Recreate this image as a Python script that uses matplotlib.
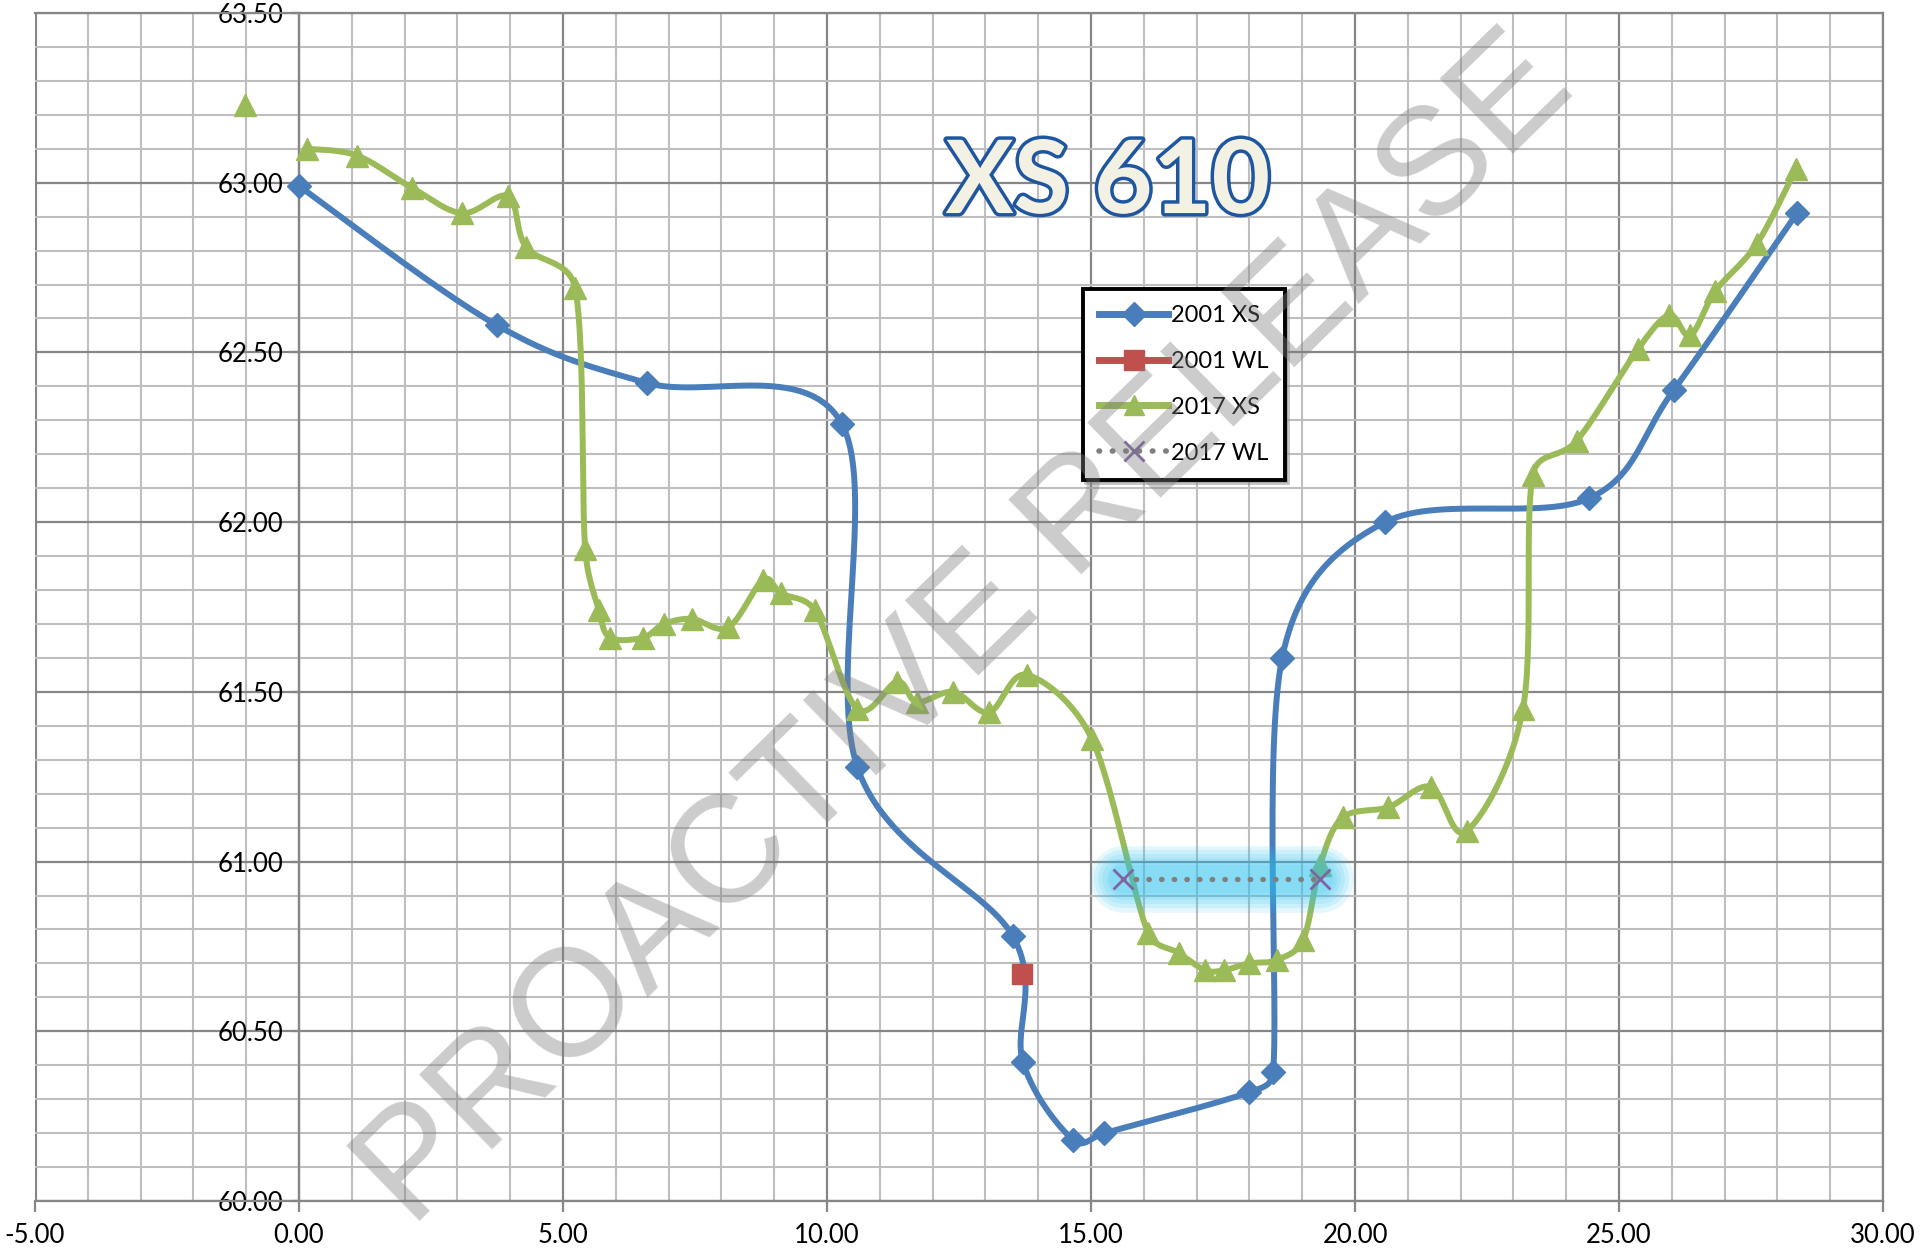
import numpy as np
import matplotlib
matplotlib.use("Agg")
import matplotlib.pyplot as plt
import matplotlib.patheffects as pe
from matplotlib.ticker import MultipleLocator, FormatStrFormatter

# 2001 cross section
xs2001_x = [0.00, 3.75, 6.59, 10.28, 10.57, 13.52, 13.71, 14.66, 15.25, 17.99, 18.45, 18.62, 20.57, 24.43, 26.04, 28.37]
xs2001_y = [62.99, 62.58, 62.41, 62.29, 61.28, 60.78, 60.41, 60.18, 60.20, 60.32, 60.38, 61.60, 62.00, 62.07, 62.39, 62.91]

# 2001 water level
wl2001_x = [13.69]
wl2001_y = [60.67]

# 2017 cross section (first point stands on its own)
xs2017_lone_x = [-1.02]
xs2017_lone_y = [63.23]
xs2017_x = [0.15, 1.10, 2.14, 3.09, 3.96, 4.30, 5.23, 5.42, 5.68, 5.89, 6.52, 6.91, 7.44, 8.13,
            8.79, 9.13, 9.77, 10.57, 11.33, 11.70, 12.39, 13.07, 13.79, 15.02, 16.08, 16.67,
            17.16, 17.52, 17.99, 18.52, 19.02, 19.34, 19.77, 20.63, 21.44, 22.12, 23.18, 23.37,
            24.20, 25.36, 25.95, 26.35, 26.82, 27.61, 28.35]
xs2017_y = [63.10, 63.08, 62.985, 62.91, 62.96, 62.81, 62.69, 61.92, 61.74, 61.66, 61.66, 61.70, 61.715, 61.69,
            61.83, 61.79, 61.74, 61.45, 61.53, 61.47, 61.50, 61.44, 61.55, 61.36, 60.79, 60.73,
            60.68, 60.68, 60.70, 60.71, 60.77, 60.99, 61.13, 61.16, 61.22, 61.09, 61.45, 62.14,
            62.24, 62.51, 62.61, 62.55, 62.68, 62.82, 63.04]

# 2017 water level
wl2017_x = [15.61, 19.34]
wl2017_y = [60.95, 60.95]

XMIN, XMAX, YMIN, YMAX = -5, 30, 60, 63.5
PX_X, PX_Y = 52.8, 339.3  # pixels per unit, used so the smoothing looks like Excel's


def smooth(xs, ys, n=30):
    """Excel-like smoothed line: cubic Bezier through the points"""
    p = np.column_stack([np.asarray(xs) * PX_X, np.asarray(ys) * PX_Y])
    if len(p) < 3:
        return xs, ys
    ext = np.vstack([p[0], p, p[-1]])
    out = []
    t = np.linspace(0, 1, n)[:, None]

    def clamp(arm, seg_len):
        # keep control arms short on short segments (avoids hooks)
        L = np.hypot(*arm)
        lim = 0.45 * seg_len
        return arm * (lim / L) if L > lim and L > 0 else arm

    for i in range(len(p) - 1):
        p0, p3 = ext[i + 1], ext[i + 2]
        seg_len = np.hypot(*(p3 - p0))
        c1 = p0 + clamp((ext[i + 2] - ext[i]) / 6.0, seg_len)
        c2 = p3 - clamp((ext[i + 3] - ext[i + 1]) / 6.0, seg_len)
        seg = (1 - t) ** 3 * p0 + 3 * (1 - t) ** 2 * t * c1 + 3 * (1 - t) * t ** 2 * c2 + t ** 3 * p3
        out.append(seg if i == 0 else seg[1:])
    out = np.vstack(out)
    return out[:, 0] / PX_X, out[:, 1] / PX_Y


plt.rcParams['font.family'] = ['Lato', 'DejaVu Sans']

fig = plt.figure(figsize=(19.25, 12.6), dpi=100)
ax = fig.add_axes([35 / 1925, 1 - 1201 / 1260, 1848 / 1925, 1188 / 1260])
ax.set_xlim(XMIN, XMAX)
ax.set_ylim(YMIN, YMAX)

# grid
ax.xaxis.set_major_locator(MultipleLocator(5))
ax.xaxis.set_minor_locator(MultipleLocator(1))
ax.yaxis.set_major_locator(MultipleLocator(0.5))
ax.yaxis.set_minor_locator(MultipleLocator(0.1))
ax.grid(which='minor', color='#BEBEBE', lw=1.5, zorder=0)
ax.grid(which='major', color='#868686', lw=1.6, zorder=0)
ax.set_axisbelow(True)
ax.xaxis.set_major_formatter(FormatStrFormatter('%.2f'))
ax.yaxis.set_major_formatter(FormatStrFormatter('%.2f'))

for s in ['top', 'right']:
    ax.spines[s].set_color('#868686')
    ax.spines[s].set_linewidth(1.6)
ax.spines['left'].set_position(('data', 0))
ax.spines['left'].set_color('#868686')
ax.spines['left'].set_linewidth(1.6)
ax.spines['bottom'].set_color('#868686')
ax.spines['bottom'].set_linewidth(1.6)
ax.axvline(XMIN, color='#868686', lw=3, zorder=0)

ax.tick_params(which='minor', length=0)
ax.tick_params(axis='x', which='major', direction='out', length=8, width=1.6, color='#868686',
               labelsize=18.5, pad=8)
ax.tick_params(axis='y', which='major', direction='out', length=6, width=1.6, color='#868686',
               labelsize=18.5, pad=5)

# series
blue = '#4A7EBB'
red = '#C0504D'
green = '#9BBB59'

bx, by = smooth(xs2001_x, xs2001_y)
ax.plot(bx, by, color=blue, lw=4.3, solid_capstyle='round', solid_joinstyle='round', zorder=3)
ax.plot(xs2001_x, xs2001_y, ls='none', marker='D', ms=12.5, color=blue, zorder=3)

ax.plot(wl2001_x, wl2001_y, ls='none', marker='s', ms=14, color=red, zorder=4)

gx, gy = smooth(xs2017_x, xs2017_y)
ax.plot(gx, gy, color=green, lw=4.3, solid_capstyle='round', solid_joinstyle='round', zorder=3)
ax.plot(xs2017_x, xs2017_y, ls='none', marker='^', ms=16, color=green, zorder=3)
ax.plot(xs2017_lone_x, xs2017_lone_y, ls='none', marker='^', ms=16, color=green, zorder=3)

# glow round the 2017 water level
for lw in [48, 42, 36, 30, 24, 20]:
    ax.plot(wl2017_x, wl2017_y, color='#2EC2F0', lw=lw, alpha=0.13,
            solid_capstyle='round', zorder=5)
ax.plot(wl2017_x, wl2017_y, color='#7F7F7F', lw=3.8, ls=(0, (0.1, 2.3)),
        dash_capstyle='round', zorder=6)
ax.plot(wl2017_x, wl2017_y, ls='none', marker='x', ms=15, mew=2, color='#8064A2', zorder=6)

# legend with proxy handles
h1, = ax.plot([], [], color=blue, lw=5, marker='D', ms=12)
h2, = ax.plot([], [], color=red, lw=5, marker='s', ms=14)
h3, = ax.plot([], [], color=green, lw=5, marker='^', ms=15)
h4, = ax.plot([], [], color='#7F7F7F', lw=4, ls=(0, (0.1, 2.3)), dash_capstyle='round',
              marker='x', ms=15, mew=2, mec='#8064A2')
leg = ax.legend([h1, h2, h3, h4], ['2001 XS', '2001 WL', '2017 XS', '2017 WL'],
                loc='upper left', bbox_to_anchor=(0.567, 0.768), borderaxespad=0,
                fontsize=17, handlelength=2.9, handletextpad=0.15, labelspacing=1.05,
                borderpad=0.7, fancybox=False, framealpha=1, edgecolor='black',
                shadow={'color': '0.55', 'alpha': 0.5})
leg.get_frame().set_linewidth(2.8)
leg.set_zorder(7)

# chart title
ax.text(0.5806, 0.856, 'XS 610', transform=ax.transAxes, ha='center', va='center',
        fontsize=73, fontweight='bold', color='#F3F0E4', zorder=8,
        path_effects=[pe.withSimplePatchShadow(offset=(2, -2), shadow_rgbFace='#9DB3CF', alpha=0.5),
                      pe.Stroke(linewidth=5, foreground='#1F56A0'), pe.Normal()])

# watermark
fig.text(967 / 1925, 1 - 632 / 1260, 'PROACTIVE RELEASE', rotation=44.3, rotation_mode='anchor',
         ha='center', va='center', fontsize=110, family='Liberation Sans',
         color='#7F7F7F', alpha=0.4, zorder=10)

fig.savefig('out.png', dpi=100)
